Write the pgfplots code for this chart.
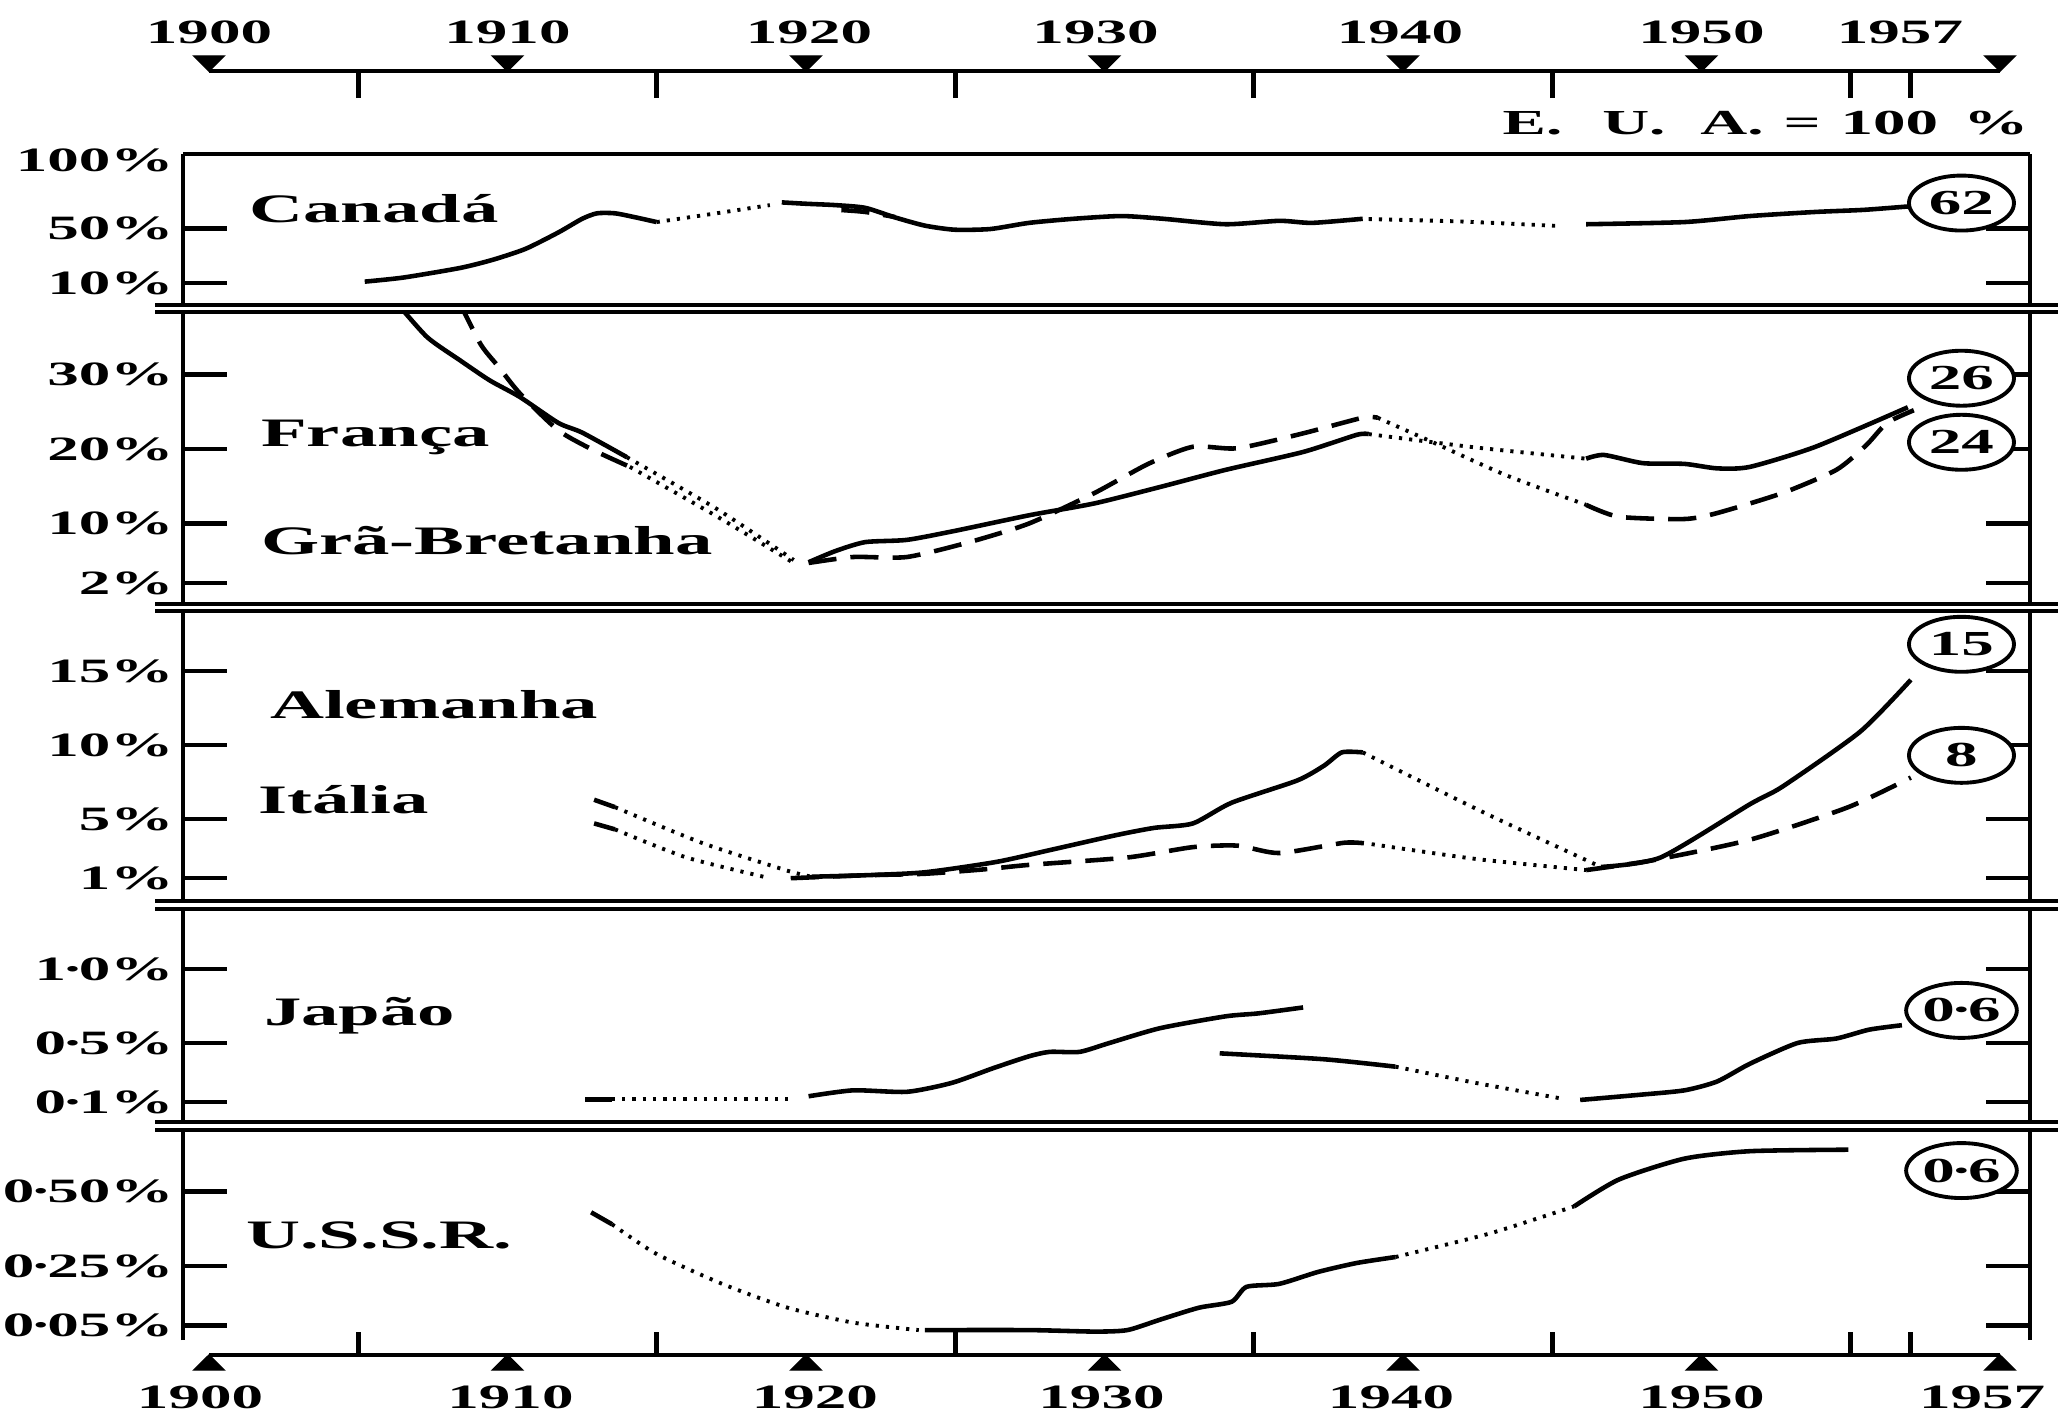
\documentclass[border=0pt]{standalone}
\usepackage{fontspec}
\setmainfont{Liberation Serif}[FakeStretch=1.85]
\usepackage{pgfplots}
\pgfplotsset{compat=1.18}
\usetikzlibrary{shapes.geometric}

\newcommand\tickf{\fontsize{9.7}{11}\selectfont\bfseries}
\newcommand\labf{\fontsize{11.5}{13}\selectfont\bfseries}
\newcommand\circf{\fontsize{10}{11}\selectfont\bfseries}
\newcommand\md{\kern-0.12em·\kern-0.12em}

\tikzset{circ/.style={draw, ellipse, line width=1.1pt, minimum width=1.05cm, minimum height=0.55cm, inner sep=0pt, fill=white, font=\circf},
         lab/.style={anchor=base west, font=\labf, inner sep=0pt}}

\pgfplotsset{
 panel/.style={
  scale only axis, width=18.47cm, xmin=1899.1, xmax=1961.1,
  anchor=south west,
  xtick=\empty,
  separate axis lines,
  x axis line style={draw=none},
  y axis line style={line width=1.3pt},
  tick align=inside,
  major tick length=0.44cm,
  ytick style={line width=1.3pt, black},
  yticklabel pos=left,
  ytick pos=both,
  yticklabel style={font=\tickf, inner sep=2.5pt},
 },
 sol/.style={line width=1.3pt, black, smooth, tension=0.4},
 dot/.style={line width=1.1pt, black, dash pattern=on 0.9pt off 2pt, smooth, tension=0.4},
 dsh/.style={line width=1.3pt, black, dash pattern=on 8pt off 4pt, smooth, tension=0.4},
 yearaxis/.style={
  scale only axis, width=17.91cm, height=1cm, anchor=south west,
  xmin=1900, xmax=1960, ymin=0, ymax=1,
  axis x line=bottom, axis y line=none, ytick=\empty,
  x axis line style={-, line width=1.3pt},
  xtick={1905,1915,1925,1935,1945,1955,1957}, xticklabels={},
  xtick style={line width=1.3pt, black},
  clip=false,
 },
}

\begin{document}
\begin{tikzpicture}[x=1cm,y=1cm]
\useasboundingbox (0,0) rectangle (20.58,-14.17);

% ---------- top year axis ----------
\begin{axis}[yearaxis, at={(2.09cm,-0.71cm)}, tick align=outside, major tick length=0.27cm]
\addplot[only marks, mark=triangle*, mark size=2.85pt, mark options={xscale=1.75, rotate=180, fill=black}]
  coordinates {(1900,0.1) (1910,0.1) (1920,0.1) (1930,0.1) (1940,0.1) (1950,0.1) (1960,0.1)};
\node[font=\tickf] at (axis cs:1900,0.39) {1900};
\node[font=\tickf] at (axis cs:1910,0.39) {1910};
\node[font=\tickf] at (axis cs:1920.1,0.39) {1920};
\node[font=\tickf] at (axis cs:1929.7,0.39) {1930};
\node[font=\tickf] at (axis cs:1939.9,0.39) {1940};
\node[font=\tickf] at (axis cs:1950,0.39) {1950};
\node[font=\tickf] at (axis cs:1956.65,0.39) {1957};
\end{axis}

\node[anchor=east, font=\fontsize{10}{11}\selectfont\bfseries, inner sep=0pt] at (20.29,-1.23) {E.\hspace{4mm}U.\hspace{3.5mm}A.\hspace{2mm}=\hspace{2mm}100\hspace{2.5mm}\%};

% ---------- Panel 1: Canada ----------
\begin{axis}[panel, at={(1.83cm,-3.05cm)}, height=1.51cm, ymin=-6.1, ymax=104.4,
  ytick={10,50}, yticklabels={10\%,50\%},
  extra y ticks={100}, extra y tick labels={100\%}, extra y tick style={major tick length=0pt}]
\addplot[sol] coordinates {(1905.2,11) (1906.5,14) (1908.4,21) (1909.5,27) (1910.6,35) (1911.7,47) (1912.5,57) (1913.0,61) (1913.6,61) (1914.3,58) (1915.0,54.6)};
\addplot[dot] coordinates {(1915.0,54.6) (1917,61) (1918.8,67)};
\addplot[sol] coordinates {(1919.2,69) (1920,68) (1921,67) (1922,65) (1923,58) (1924,52) (1925,49) (1926.2,49.5) (1927.5,54) (1929,57) (1930.6,59) (1932,57) (1934.1,53) (1935.9,55.5) (1937,54) (1938.7,57)};
\addplot[dsh] coordinates {(1921.2,63.4) (1922,62) (1923,58.3)};
\addplot[dot] coordinates {(1938.9,56.8) (1942,55) (1945.3,51.7)};
\addplot[sol] coordinates {(1946.2,53) (1949.5,54.6) (1951.7,59) (1953.9,62) (1955.5,63.5) (1957,66)};
\node[lab] at (axis cs:1901.3,54.6) {Canadá};
\node[circ] at (axis cs:1958.8,68.5) {62};
\end{axis}

% ---------- Panel 2: France / Great Britain ----------
\begin{axis}[panel, at={(1.83cm,-6.04cm)}, height=2.92cm, ymin=-0.81, ymax=38.39,
  ytick={2,10,20,30}, yticklabels={2\%,10\%,20\%,30\%}]
% France (solid)
\addplot[sol] coordinates {(1906.3,39.5) (1907.3,35) (1908.4,31.9) (1909.4,29.2) (1910.4,27) (1911.7,23.5) (1912.5,22.2) (1914.0,18.9)};
\addplot[dot] coordinates {(1914,18.9) (1917,12) (1919.6,5.1)};
\addplot[sol] coordinates {(1920.1,4.8) (1921,6.3) (1922,7.5) (1923.4,7.8) (1925,9) (1927.5,11.1) (1929.7,12.7) (1931.9,14.9) (1934.1,17.2) (1936.7,19.6) (1938.5,21.9) (1938.9,22)};
\addplot[dot] coordinates {(1938.9,22) (1942.5,20.2) (1946.2,18.7)};
\addplot[sol] coordinates {(1946.2,18.7) (1946.8,19.2) (1948.1,18.1) (1949.5,18) (1950.6,17.4) (1951.7,17.6) (1953.9,20.3) (1957,25.6)};
% Great Britain (dashed)
\addplot[dsh] coordinates {(1908.4,39.5) (1909.1,34) (1909.7,31) (1910.4,27.5) (1911.7,22.5) (1912.9,19.8) (1914.1,17.6)};
\addplot[dot] coordinates {(1914.1,17.6) (1917,11) (1919.6,4.7)};
\addplot[dsh] coordinates {(1920.1,4.7) (1921.6,5.5) (1923.4,5.5) (1925.5,7.5) (1927.5,10) (1929.7,14.1) (1931.5,18) (1933,20.3) (1934.5,20.1) (1936.7,22.1) (1938.7,24.2) (1939.2,24.2)};
\addplot[dot] coordinates {(1939.2,24.2) (1941,21) (1943.5,16.5) (1946.2,12.5)};
\addplot[dsh] coordinates {(1946.2,12.5) (1947.3,10.9) (1949.5,10.6) (1950.6,11.4) (1952.8,14.1) (1954.6,17.2) (1955.6,20.5) (1956.3,23.5) (1957.2,25.2)};
\node[lab] at (axis cs:1901.7,20.3) {França};
\node[lab] at (axis cs:1901.7,5.8) {Grã-Bretanha};
\node[circ] at (axis cs:1958.8,29.5) {26};
\node[circ] at (axis cs:1958.8,20.9) {24};
\end{axis}

% ---------- Panel 3: Germany / Italy ----------
\begin{axis}[panel, at={(1.83cm,-9.01cm)}, height=2.90cm, ymin=-0.54, ymax=19.05,
  ytick={1,5,10,15}, yticklabels={1\%,5\%,10\%,15\%}]
% Germany (solid)
\addplot[sol] coordinates {(1912.9,6.3) (1913.6,5.8)};
\addplot[dot] coordinates {(1913.6,5.8) (1916.5,3.4) (1919.4,1.5) (1920.2,1.1)};
\addplot[sol] coordinates {(1920.2,1.1) (1922,1.2) (1924,1.4) (1926.4,2.1) (1928.2,2.9) (1930.4,3.9) (1931.7,4.4) (1933,4.7) (1934.3,6.1) (1936.5,7.6) (1937.4,8.6) (1938,9.5) (1938.7,9.5)};
\addplot[dot] coordinates {(1938.7,9.5) (1942.7,5.5) (1946.7,1.76)};
\addplot[sol] coordinates {(1946.7,1.76) (1948.7,2.4) (1951.7,6.0) (1952.8,7.2) (1955.4,10.9) (1957.1,14.4)};
% Italy (dashed)
\addplot[dsh] coordinates {(1912.9,4.7) (1913.6,4.3)};
\addplot[dot] coordinates {(1913.6,4.3) (1916,2.4) (1918.8,1.0)};
\addplot[dsh] coordinates {(1919.5,1.0) (1922,1.2) (1924,1.3) (1926,1.6) (1927.5,1.9) (1930.8,2.4) (1933,3.1) (1934.5,3.2) (1935.9,2.7) (1938.1,3.4) (1939,3.3)};
\addplot[dot] coordinates {(1939,3.3) (1942.5,2.3) (1946.2,1.55)};
\addplot[dsh] coordinates {(1946.2,1.55) (1948.4,2.2) (1951.7,3.6) (1955,5.8) (1957.1,7.8)};
\node[lab] at (axis cs:1902.0,11.8) {Alemanha};
\node[lab] at (axis cs:1901.6,5.4) {Itália};
\node[circ] at (axis cs:1958.8,16.8) {15};
\node[circ] at (axis cs:1958.8,9.3) {8};
\end{axis}

% ---------- Panel 4: Japan ----------
\begin{axis}[panel, at={(1.83cm,-11.22cm)}, height=2.13cm, ymin=-0.034, ymax=1.405,
  ytick={0.1,0.5,1}, yticklabels={0\md1\%,0\md5\%,1\md0\%}]
\addplot[sol] coordinates {(1912.6,0.12) (1913.5,0.12)};
\addplot[dot] coordinates {(1913.5,0.12) (1919.6,0.12)};
\addplot[sol] coordinates {(1920.1,0.14) (1921.6,0.18) (1923.4,0.17) (1924.9,0.23) (1926.3,0.33) (1927.5,0.41) (1928.2,0.44) (1929.2,0.44) (1930.2,0.5) (1931.9,0.6) (1934.1,0.68) (1935.2,0.7) (1936.7,0.74)};
\addplot[sol] coordinates {(1933.9,0.43) (1937.4,0.39) (1939.8,0.34)};
\addplot[dot] coordinates {(1939.8,0.34) (1942.5,0.23) (1945.5,0.12)};
\addplot[sol] coordinates {(1946,0.115) (1948,0.15) (1949.5,0.18) (1950.6,0.24) (1951.7,0.36) (1953.3,0.5) (1954.6,0.53) (1955.7,0.59) (1956.8,0.62)};
\node[lab] at (axis cs:1901.8,0.62) {Japão};
\node[circ] at (axis cs:1958.8,0.72) {0\md6};
\end{axis}

% ---------- Panel 5: USSR ----------
\begin{axis}[panel, at={(1.83cm,-13.40cm)}, height=2.10cm, ymin=0.0017, ymax=0.706,
  ytick={0.05,0.25,0.5}, yticklabels={0\md05\%,0\md25\%,0\md50\%}]
\addplot[sol] coordinates {(1912.8,0.43) (1913.5,0.39)};
\addplot[dot] coordinates {(1913.5,0.39) (1915,0.29) (1917.2,0.19) (1919.4,0.11) (1921.6,0.06) (1923.8,0.035)};
\addplot[sol] coordinates {(1924,0.035) (1927.5,0.035) (1929.7,0.03) (1930.8,0.035) (1931.9,0.07) (1933.2,0.11) (1934.3,0.13) (1934.8,0.18) (1935.9,0.19) (1937.2,0.23) (1938.5,0.26) (1939.8,0.28)};
\addplot[dot] coordinates {(1939.8,0.28) (1943,0.36) (1945.8,0.45)};
\addplot[sol] coordinates {(1945.8,0.45) (1947.3,0.54) (1949.5,0.61) (1951.7,0.635) (1955,0.64)};
\node[lab] at (axis cs:1901.2,0.31) {U.S.S.R.};
\node[circ] at (axis cs:1958.8,0.57) {0\md6};
\end{axis}

% ---------- bottom year axis ----------
\begin{axis}[yearaxis, at={(2.09cm,-13.55cm)}, tick align=inside, major tick length=0.23cm]
\addplot[only marks, mark=triangle*, mark size=2.85pt, mark options={xscale=1.75, fill=black}]
  coordinates {(1900,-0.1) (1910,-0.1) (1920,-0.1) (1930,-0.1) (1940,-0.1) (1950,-0.1) (1960,-0.1)};
\node[font=\tickf] at (axis cs:1899.7,-0.42) {1900};
\node[font=\tickf] at (axis cs:1910.1,-0.42) {1910};
\node[font=\tickf] at (axis cs:1920.3,-0.42) {1920};
\node[font=\tickf] at (axis cs:1929.9,-0.42) {1930};
\node[font=\tickf] at (axis cs:1939.6,-0.42) {1940};
\node[font=\tickf] at (axis cs:1950,-0.42) {1950};
\node[font=\tickf] at (axis cs:1959.4,-0.42) {1957};
\end{axis}

% ---------- frame lines / separators ----------
\draw[line width=1.3pt] (1.83,-1.54) -- (20.30,-1.54);
\foreach \ya/\yb in {3.05/3.12, 6.04/6.11, 9.01/9.09, 11.22/11.30} {
  \draw[line width=1.1pt] (1.55,-\ya) -- (20.58,-\ya);
  \draw[line width=1.1pt] (1.55,-\yb) -- (20.58,-\yb);
}
\end{tikzpicture}
\end{document}
